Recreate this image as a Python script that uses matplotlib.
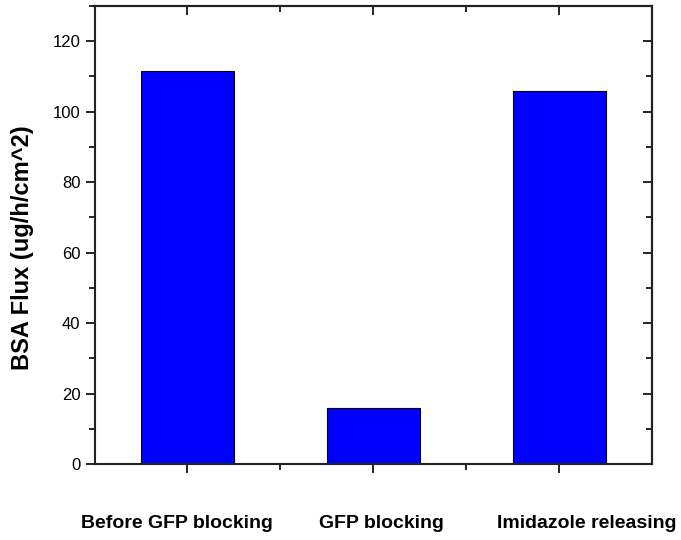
import matplotlib.pyplot as plt
from matplotlib.ticker import MultipleLocator, FixedLocator
from matplotlib.transforms import ScaledTranslation

plt.rcParams['font.family'] = ['Liberation Sans', 'DejaVu Sans']

# Data
categories = ['Before GFP blocking', 'GFP blocking', 'Imidazole releasing']
flux = [111.5, 15.9, 105.9]

fig = plt.figure(figsize=(6.81, 5.4), dpi=100)
ax = fig.add_axes([94.5 / 681, 1 - 464 / 540, (652 - 94.5) / 681, (464 - 6) / 540])

x = range(len(categories))
ax.bar(x, flux, width=0.5, color='#0000ff', edgecolor='black', linewidth=0.8)

ax.set_xlim(-0.5, 2.5)
ax.set_ylim(0, 130)

ax.set_xticks(list(x))
ax.set_xticklabels(categories, fontsize=14, fontweight='bold')
ax.xaxis.set_minor_locator(FixedLocator([0.5, 1.5]))
ax.yaxis.set_major_locator(MultipleLocator(20))
ax.yaxis.set_minor_locator(MultipleLocator(10))

ax.tick_params(axis='x', which='major', direction='out', length=6.5, width=1.2, pad=30)
ax.tick_params(axis='x', which='minor', direction='out', length=4, width=1.2)
ax.tick_params(axis='y', which='major', direction='out', length=6.5, width=1.2, labelsize=12)
ax.tick_params(axis='y', which='minor', direction='out', length=4, width=1.2)

# labels in the original sit a bit spread out from the ticks
shifts = [-0.10, 0.08, 0.28]  # inches
for lab, dx in zip(ax.get_xticklabels(), shifts):
    lab.set_transform(lab.get_transform() + ScaledTranslation(dx, 0, fig.dpi_scale_trans))

# inward ticks on top and right
top = ax.secondary_xaxis('top')
top.set_xticks(list(x))
top.xaxis.set_minor_locator(FixedLocator([0.5, 1.5]))
top.tick_params(which='major', direction='in', length=6.5, width=1.2, labeltop=False)
top.tick_params(which='minor', direction='in', length=4, width=1.2)
top.spines['top'].set_linewidth(1.5)

right = ax.secondary_yaxis('right')
right.yaxis.set_major_locator(MultipleLocator(20))
right.yaxis.set_minor_locator(MultipleLocator(10))
right.tick_params(which='major', direction='in', length=6.5, width=1.2, labelright=False)
right.tick_params(which='minor', direction='in', length=4, width=1.2)
right.spines['right'].set_linewidth(1.5)

for s in ax.spines.values():
    s.set_linewidth(1.5)
    s.set_color('#222222')

ax.set_ylabel('BSA Flux (ug/h/cm^2)', fontsize=17, fontweight='bold')
ax.yaxis.set_label_coords(-0.108, 0.473)

fig.savefig('out.png', dpi=100)
